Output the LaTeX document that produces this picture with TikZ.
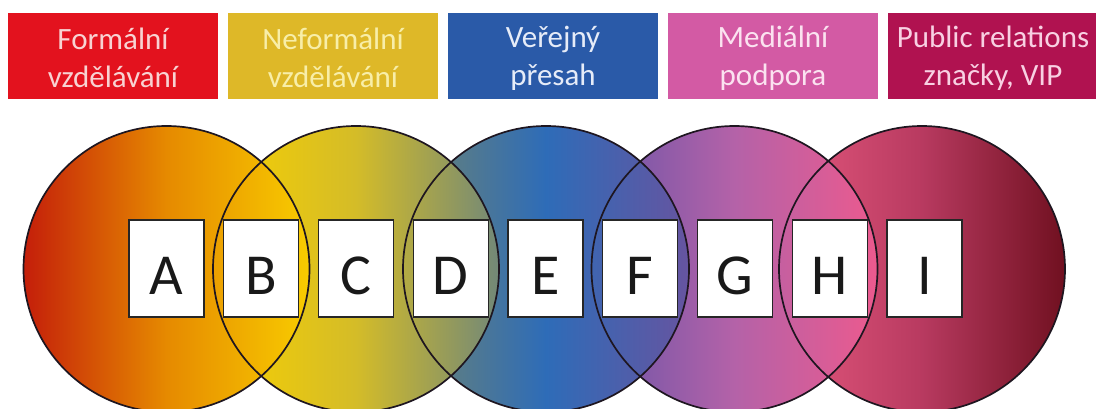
\documentclass[tikz,border=0pt]{standalone}
\usepackage{fontspec}
\setmainfont{Carlito}
\definecolor{hA}{HTML}{E3121E}
\definecolor{hB}{HTML}{DEB828}
\definecolor{hC}{HTML}{2A5AA8}
\definecolor{hD}{HTML}{D35AA4}
\definecolor{hE}{HTML}{B01250}
\definecolor{tA}{HTML}{F8D2D2}
\definecolor{tB}{HTML}{F8EEA8}
\definecolor{tC}{HTML}{E6ECF8}
\definecolor{tD}{HTML}{FBE2F0}
\definecolor{tE}{HTML}{F8D0E2}
\definecolor{outl}{HTML}{1E1620}
% circle gradient colours
\definecolor{aL}{HTML}{C41E0A}\definecolor{aM}{HTML}{E68A00}\definecolor{aR}{HTML}{F8CC00}
\definecolor{bL}{HTML}{F8D000}\definecolor{bM}{HTML}{D4BC28}\definecolor{bR}{HTML}{728878}
\definecolor{cL}{HTML}{6E8470}\definecolor{cM}{HTML}{2E6CB8}\definecolor{cR}{HTML}{6654A0}
\definecolor{dL}{HTML}{6A55A8}\definecolor{dM}{HTML}{B462A8}\definecolor{dR}{HTML}{EC5A8E}
\definecolor{eL}{HTML}{E4587E}\definecolor{eM}{HTML}{B83A60}\definecolor{eR}{HTML}{701020}
\begin{document}
\begin{tikzpicture}[x=1pt,y=-1pt,
  hdr/.style={rectangle, minimum width=210pt, minimum height=86pt, inner sep=0pt, anchor=north west},
  htxt/.style={align=center, inner sep=0pt, font=\fontsize{31}{38}\selectfont},
  bubble/.style={circle, minimum size=286pt, inner sep=0pt},
  ring/.style={draw=outl, line width=1.7pt},
  lbox/.style={rectangle, draw=black!85, line width=1.1pt, fill=white, minimum width=75pt, minimum height=97pt, inner sep=0pt},
  ltxt/.style={anchor=base, inner sep=0pt, text=black!90, font=\fontsize{58}{60}\selectfont}]
\useasboundingbox (0,0) rectangle (1096,408);
\begin{scope}
\clip (0,0) rectangle (1096,408);
% header boxes
\node[hdr, fill=hA] (h1) at (8,13) {};
\node[hdr, fill=hB] (h2) at (228,13) {};
\node[hdr, fill=hC] (h3) at (448,13) {};
\node[hdr, fill=hD] (h4) at (668,13) {};
\node[hdr, fill=hE] (h5) at (888,13) {};
\node[htxt, text=tA] (t1) at (113,58) {Formální\\vzdělávání};
\node[htxt, text=tB] (t2) at (333,58) {Neformální\\vzdělávání};
\node[htxt, text=tC] (t3) at (553,58) {Veřejný\\přesah};
\node[htxt, text=tD] (t4) at (773,58) {Mediální\\podpora};
\node[htxt, text=tE] (t5) at (993,58) {Public relations\\značky, VIP};
% circles, right one first so that each left circle lies on top
\node[bubble, left color=eL, right color=eR, middle color=eM] (c5) at (922,269) {};
\node[bubble, left color=dL, right color=dR, middle color=dM] (c4) at (734.5,269) {};
\node[bubble, left color=cL, right color=cR, middle color=cM] (c3) at (546,269) {};
\node[bubble, left color=bL, right color=bR, middle color=bM] (c2) at (356,269) {};
\node[bubble, left color=aL, right color=aR, middle color=aM] (c1) at (166.5,269) {};
\foreach \c in {c1,c2,c3,c4,c5} \draw[ring] (\c.center) circle[radius=143pt];
% letter boxes
\foreach \n/\x in {A/166.5,B/261.25,C/356,D/450.75,E/545.5,F/640.25,G/735,H/829.75,I/924.5}{
  \node[lbox] (\n) at (\x,268.5) {};
  \node[ltxt] (\n t) at (\x,294) {\n};
}
\end{scope}
\end{tikzpicture}
\end{document}
